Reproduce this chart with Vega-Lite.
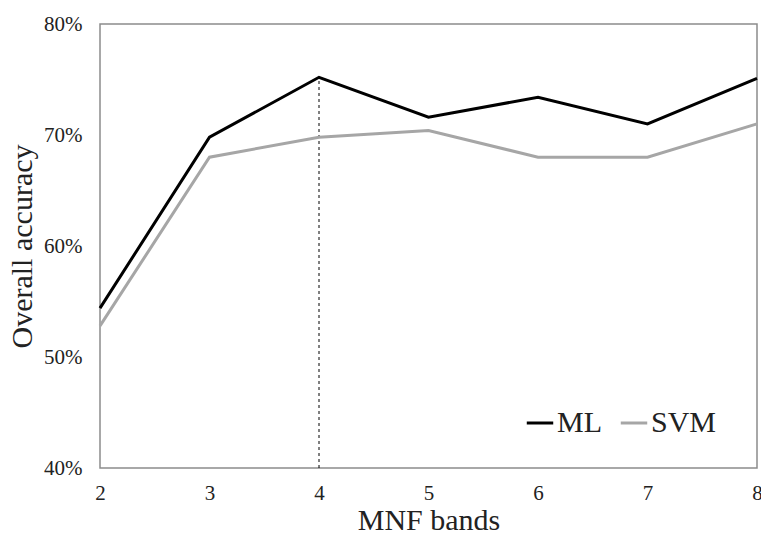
{
  "$schema": "https://vega.github.io/schema/vega-lite/v6.json",
  "width": 657,
  "height": 444,
  "autosize": {"type": "none"},
  "padding": {"left": 100, "top": 24, "right": 4, "bottom": 70},
  "background": "white",
  "config": {
    "font": "Liberation Serif",
    "view": {"stroke": "#8c8c8c", "strokeWidth": 1.5}
  },
  "datasets": {
    "acc": [
      {"bands": 2, "method": "ML", "acc": 0.544},
      {"bands": 3, "method": "ML", "acc": 0.698},
      {"bands": 4, "method": "ML", "acc": 0.752},
      {"bands": 5, "method": "ML", "acc": 0.716},
      {"bands": 6, "method": "ML", "acc": 0.734},
      {"bands": 7, "method": "ML", "acc": 0.710},
      {"bands": 8, "method": "ML", "acc": 0.751},
      {"bands": 2, "method": "SVM", "acc": 0.528},
      {"bands": 3, "method": "SVM", "acc": 0.680},
      {"bands": 4, "method": "SVM", "acc": 0.698},
      {"bands": 5, "method": "SVM", "acc": 0.704},
      {"bands": 6, "method": "SVM", "acc": 0.680},
      {"bands": 7, "method": "SVM", "acc": 0.680},
      {"bands": 8, "method": "SVM", "acc": 0.710}
    ],
    "marker": [{"bands": 4, "lo": 0.4, "hi": 0.752}]
  },
  "layer": [
    {
      "data": {"name": "marker"},
      "mark": {"type": "rule", "color": "black", "strokeWidth": 1, "strokeDash": [3, 3]},
      "encoding": {
        "x": {"field": "bands", "type": "quantitative", "scale": {"domain": [2, 8]}},
        "y": {"field": "lo", "type": "quantitative", "scale": {"domain": [0.4, 0.8]}},
        "y2": {"field": "hi"}
      }
    },
    {
      "data": {"name": "acc"},
      "mark": {"type": "line", "strokeWidth": 3},
      "encoding": {
        "x": {
          "field": "bands", "type": "quantitative",
          "scale": {"domain": [2, 8], "nice": false},
          "axis": {
            "title": "MNF bands", "values": [2, 3, 4, 5, 6, 7, 8], "format": "d",
            "grid": false, "ticks": false, "domain": false, "labelFlush": false,
            "labelFontSize": 21, "labelColor": "#222", "labelPadding": 14,
            "titleFontSize": 30, "titleFontWeight": "normal", "titleColor": "#222", "titlePadding": 2
          }
        },
        "y": {
          "field": "acc", "type": "quantitative",
          "scale": {"domain": [0.4, 0.8], "nice": false},
          "axis": {
            "title": "Overall accuracy", "values": [0.4, 0.5, 0.6, 0.7, 0.8], "format": ".0%",
            "grid": false, "ticks": false, "domain": false,
            "labelFontSize": 21, "labelColor": "#222", "labelPadding": 18,
            "titleFontSize": 30, "titleFontWeight": "normal", "titleColor": "#222", "titlePadding": 6
          }
        },
        "color": {
          "field": "method", "type": "nominal",
          "scale": {"domain": ["ML", "SVM"], "range": ["#000000", "#a6a6a6"]},
          "legend": {
            "title": null, "orient": "none", "direction": "horizontal",
            "legendX": 425, "legendY": 384,
            "symbolType": "stroke", "symbolSize": 700, "symbolStrokeWidth": 3,
            "labelFontSize": 30, "labelColor": "#222", "labelOffset": 2,
            "columnPadding": 12, "labelLimit": 200
          }
        }
      }
    }
  ]
}
